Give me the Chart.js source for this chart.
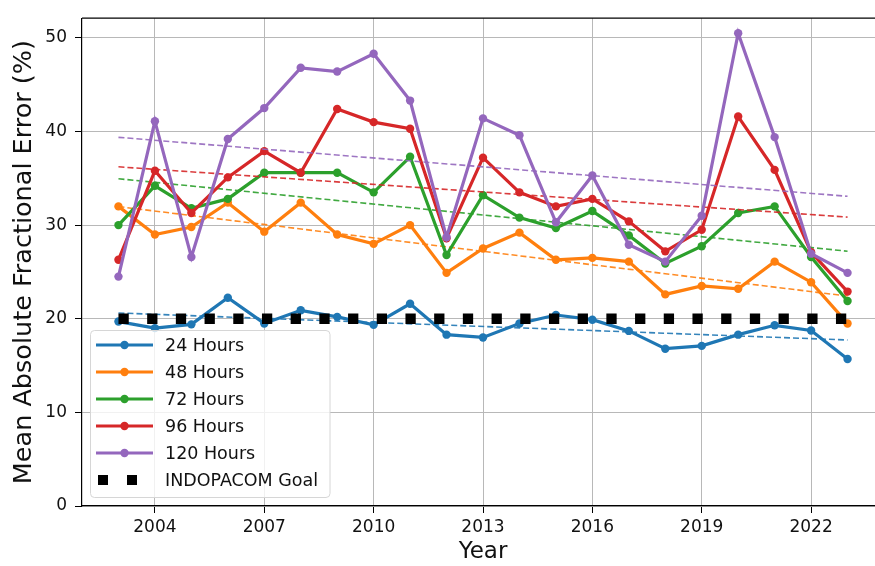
<!DOCTYPE html>
<html>
<head>
<meta charset="utf-8">
<script src="https://cdn.jsdelivr.net/npm/chart.js@4.4.1/dist/chart.umd.min.js"></script>
<style>
  html, body { margin: 0; padding: 0; background: #fff; overflow: hidden; width: 875px; height: 566px; }
  canvas { display: block; }
</style>
</head>
<body>
<canvas id="c" width="900" height="566"></canvas>
<script>
// Yearly mean absolute fractional intensity error by forecast lead time
const years = [2003, 2004, 2005, 2006, 2007, 2008, 2009, 2010, 2011, 2012, 2013,
               2014, 2015, 2016, 2017, 2018, 2019, 2020, 2021, 2022, 2023];
const hours24  = [19.7, 19.0, 19.4, 22.25, 19.5, 20.9, 20.2, 19.35, 21.6, 18.3, 18.0,
                  19.5, 20.4, 19.9, 18.7, 16.8, 17.1, 18.3, 19.3, 18.75, 15.7];
const hours48  = [32.0, 29.0, 29.8, 32.4, 29.3, 32.4, 29.0, 28.0, 30.0, 24.9, 27.5,
                  29.2, 26.3, 26.5, 26.1, 22.6, 23.5, 23.2, 26.1, 23.9, 19.5];
const hours72  = [30.0, 34.2, 31.8, 32.8, 35.6, 35.6, 35.6, 33.5, 37.3, 26.8, 33.2,
                  30.8, 29.7, 31.5, 28.9, 25.9, 27.75, 31.3, 32.0, 26.6, 21.9];
const hours96  = [26.3, 35.8, 31.3, 35.1, 37.9, 35.6, 42.4, 41.0, 40.3, 28.6, 37.2,
                  33.5, 32.0, 32.8, 30.4, 27.2, 29.5, 41.6, 35.9, 27.1, 22.9];
const hours120 = [24.5, 41.1, 26.6, 39.2, 42.5, 46.8, 46.4, 48.3, 43.3, 28.7, 41.4,
                  39.6, 30.3, 35.3, 27.9, 26.1, 31.0, 50.5, 39.4, 26.95, 24.9];
const seriesNames = ['24 Hours', '48 Hours', '72 Hours', '96 Hours', '120 Hours'];
const goalLabel = 'INDOPACOM Goal';
const goalValue = 20;
const xTicks = [2004, 2007, 2010, 2013, 2016, 2019, 2022];
const yTicks = [0, 10, 20, 30, 40, 50];

const seriesValues = [hours24, hours48, hours72, hours96, hours120];
const colors = ['#1f77b4', '#ff7f0e', '#2ca02c', '#d62728', '#9467bd'];

// least-squares linear trend across all years, evaluated at the first and last year
function trendEnds(values) {
  const n = years.length;
  const mx = years.reduce((s, v) => s + v, 0) / n;
  const my = values.reduce((s, v) => s + v, 0) / n;
  let sxy = 0, sxx = 0;
  for (let i = 0; i < n; i++) {
    sxy += (years[i] - mx) * (values[i] - my);
    sxx += (years[i] - mx) * (years[i] - mx);
  }
  const b = sxy / sxx;
  const a = my - b * mx;
  const x0 = years[0], x1 = years[n - 1];
  return [{ x: x0, y: a + b * x0 }, { x: x1, y: a + b * x1 }];
}

function withAlpha(hex, a) {
  const r = parseInt(hex.slice(1, 3), 16), g = parseInt(hex.slice(3, 5), 16), b = parseInt(hex.slice(5, 7), 16);
  return `rgba(${r},${g},${b},${a})`;
}

const datasets = [];
let order = 20;
seriesValues.forEach((vals, i) => {
  datasets.push({
    label: seriesNames[i],
    data: years.map((y, k) => ({ x: y, y: vals[k] })),
    borderColor: colors[i],
    backgroundColor: colors[i],
    borderWidth: 3.2,
    pointRadius: 4.2,
    pointBorderWidth: 0,
    pointHoverRadius: 4.2,
    tension: 0,
    order: order--
  });
  datasets.push({
    label: seriesNames[i] + ' trend',
    data: trendEnds(vals),
    borderColor: withAlpha(colors[i], 0.9),
    borderWidth: 1.6,
    borderDash: [6, 3],
    pointRadius: 0,
    order: order--
  });
});
datasets.push({
  label: goalLabel,
  data: [{ x: years[0], y: goalValue }, { x: years[years.length - 1], y: goalValue }],
  borderColor: '#000',
  borderWidth: 10.3,
  borderDash: [10.3, 18.4],
  borderCapStyle: 'butt',
  pointRadius: 0,
  order: order--
});

// boxed legend in the lower-left of the plot area
const boxLegend = {
  id: 'boxLegend',
  afterDraw(chart) {
    const ctx = chart.ctx;
    const x0 = 90.5, y0 = 330.5, w = 239.5, h = 167;
    ctx.save();
    ctx.beginPath();
    ctx.roundRect(x0, y0, w, h, 4);
    ctx.fillStyle = 'rgba(255,255,255,0.8)';
    ctx.fill();
    ctx.strokeStyle = '#d6d6d6';
    ctx.lineWidth = 1;
    ctx.stroke();

    const rowY = [345, 372, 399, 426, 453, 480];
    ctx.font = '17.5px "DejaVu Sans"';
    ctx.textBaseline = 'middle';
    seriesNames.forEach((name, i) => {
      const y = rowY[i];
      ctx.strokeStyle = colors[i];
      ctx.lineWidth = 3.2;
      ctx.beginPath();
      ctx.moveTo(96, y);
      ctx.lineTo(153, y);
      ctx.stroke();
      ctx.fillStyle = colors[i];
      ctx.beginPath();
      ctx.arc(124.5, y, 4.2, 0, Math.PI * 2);
      ctx.fill();
      ctx.fillStyle = '#111';
      ctx.fillText(name, 165, y + 1);
    });
    const gy = rowY[5];
    ctx.fillStyle = '#000';
    ctx.fillRect(98, gy - 5, 10, 10);
    ctx.fillRect(127, gy - 5, 10, 10);
    ctx.fillStyle = '#111';
    ctx.fillText(goalLabel, 165, gy + 1);
    ctx.restore();
  }
};

// top frame line of the axes box
const frame = {
  id: 'frame',
  afterDatasetsDraw(chart) {
    const { ctx, chartArea: a } = chart;
    ctx.save();
    ctx.strokeStyle = '#000';
    ctx.lineWidth = 1.2;
    ctx.beginPath();
    ctx.moveTo(a.left, a.top);
    ctx.lineTo(a.right, a.top);
    ctx.stroke();
    ctx.restore();
  }
};

Chart.defaults.font.family = '"DejaVu Sans"';

new Chart(document.getElementById('c'), {
  type: 'line',
  data: { datasets },
  options: {
    responsive: false,
    animation: false,
    devicePixelRatio: 1,
    layout: { padding: { left: 0, top: 8, right: 16, bottom: 0 } },
    plugins: { legend: { display: false }, tooltip: { enabled: false } },
    scales: {
      x: {
        type: 'linear',
        min: 2002,
        max: 2024,
        afterBuildTicks(scale) { scale.ticks = xTicks.map(v => ({ value: v })); },
        afterFit(scale) { scale.height = 60; },
        ticks: {
          callback: v => String(v),
          color: '#111',
          font: { size: 17 },
          padding: 4,
          maxRotation: 0,
          autoSkip: false
        },
        grid: { color: '#b8b8b8', lineWidth: 1, tickColor: '#000', tickLength: 7 },
        border: { color: '#000', width: 1.2 },
        title: {
          display: true,
          text: 'Year',
          color: '#111',
          font: { size: 23 },
          padding: { top: 0, bottom: 0 }
        }
      },
      y: {
        type: 'linear',
        min: 0,
        max: 52.1,
        afterBuildTicks(scale) { scale.ticks = yTicks.map(v => ({ value: v })); },
        afterFit(scale) { scale.width = 82; },
        ticks: {
          callback: v => String(v),
          color: '#111',
          font: { size: 17 },
          padding: 8
        },
        grid: { color: '#b8b8b8', lineWidth: 1, tickColor: '#000', tickLength: 7 },
        border: { color: '#000', width: 1.2 },
        title: {
          display: true,
          text: 'Mean Absolute Fractional Error (%)',
          color: '#111',
          font: { size: 25.5 },
          padding: { top: 9, bottom: 0 }
        }
      }
    }
  },
  plugins: [frame, boxLegend]
});
</script>
</body>
</html>
